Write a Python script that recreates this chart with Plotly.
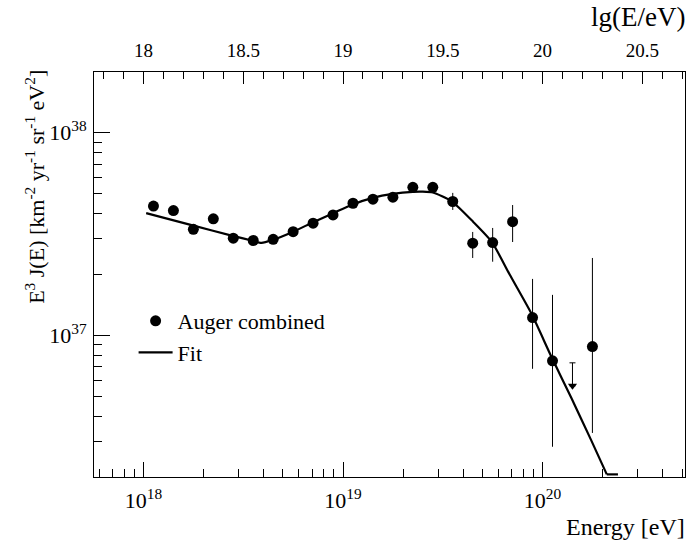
import plotly.graph_objects as go

# ---------------- data ----------------
lgE_data = [18.05, 18.15, 18.25, 18.35, 18.45, 18.55, 18.65, 18.75, 18.85, 18.95,
            19.05, 19.15, 19.25, 19.35, 19.45, 19.55, 19.65, 19.75, 19.85, 19.95,
            20.05, 20.25]
flux = [4.35e37, 4.13e37, 3.34e37, 3.76e37, 3.02e37, 2.94e37, 2.98e37, 3.25e37,
        3.58e37, 3.93e37, 4.49e37, 4.70e37, 4.81e37, 5.38e37, 5.38e37, 4.58e37,
        2.85e37, 2.87e37, 3.64e37, 1.224e37, 7.49e36, 8.81e36]
flux_hi = [4.45e37, 4.23e37, 3.43e37, 3.88e37, 3.09e37, 3.01e37, 3.05e37, 3.33e37,
           3.67e37, 4.04e37, 4.62e37, 4.85e37, 4.98e37, 5.62e37, 5.65e37, 5.05e37,
           3.24e37, 3.39e37, 4.40e37, 1.90e37, 1.585e37, 2.41e37]
flux_lo = [4.25e37, 4.03e37, 3.25e37, 3.64e37, 2.95e37, 2.87e37, 2.91e37, 3.17e37,
           3.49e37, 3.82e37, 4.36e37, 4.55e37, 4.64e37, 5.14e37, 5.11e37, 4.16e37,
           2.41e37, 2.31e37, 2.89e37, 6.84e36, 2.82e36, 3.30e36]

# upper limit bin
lgE_ul = [20.15]
flux_ul = [7.32e36]
ul_arrow_ratio = 0.77   # arrow head sits below the limit

# fit curve
lgE_fit = [18.0135, 18.246, 18.4466, 18.547, 18.592, 18.647, 18.748, 18.848, 18.948,
           19.049, 19.149, 19.249, 19.350, 19.400, 19.450, 19.545, 19.652, 19.745,
           19.836, 19.943, 20.044, 20.144, 20.243, 20.322]
flux_fit = [4.01e37, 3.49e37, 3.10e37, 2.93e37, 2.86e37, 2.96e37, 3.24e37, 3.61e37,
            4.00e37, 4.43e37, 4.77e37, 4.99e37, 5.11e37, 5.12e37, 5.07e37, 4.59e37,
            3.64e37, 2.90e37, 1.99e37, 1.288e37, 7.86e36, 4.92e36, 3.05e36, 2.06e36]
# part of the fit drawn along the lower frame edge (clipped by the plot minimum)
lgE_fit_floor = [20.322, 20.378]
flux_fit_floor = [2.06e36, 2.06e36]

# axis ticks
x_major = [1e18, 1e19, 1e20]
x_major_text = ["10<sup>18</sup>", "10<sup>19</sup>", "10<sup>20</sup>"]
x_minor = [6e17, 7e17, 8e17, 9e17,
           2e18, 3e18, 4e18, 5e18, 6e18, 7e18, 8e18, 9e18,
           2e19, 3e19, 4e19, 5e19, 6e19, 7e19, 8e19, 9e19,
           2e20, 3e20, 4e20, 5e20]
y_major = [1e37, 1e38]
y_major_text = ["10<sup>37</sup>", "10<sup>38</sup>"]
y_minor = [3e36, 4e36, 5e36, 6e36, 7e36, 8e36, 9e36,
           2e37, 3e37, 4e37, 5e37, 6e37, 7e37, 8e37, 9e37]
top_major = [18, 18.5, 19, 19.5, 20, 20.5]
top_major_text = ["18", "18.5", "19", "19.5", "20", "20.5"]
top_minor = [17.8, 17.9, 18.1, 18.2, 18.3, 18.4, 18.6, 18.7, 18.8, 18.9,
             19.1, 19.2, 19.3, 19.4, 19.6, 19.7, 19.8, 19.9,
             20.1, 20.2, 20.3, 20.4, 20.6, 20.7]

lg_range = [17.752, 20.714]
ylog_range = [36.301, 38.300]

FONT = "Liberation Serif, DejaVu Serif, serif"

E_data = [10 ** v for v in lgE_data]
E_fit = [10 ** v for v in lgE_fit]
E_fit_floor = [10 ** v for v in lgE_fit_floor]
E_ul = [10 ** v for v in lgE_ul]
arrow_y = [v * ul_arrow_ratio for v in flux_ul]

fig = go.Figure()

fig.add_trace(go.Scatter(
    x=E_fit, y=flux_fit, mode="lines", name="Fit",
    line=dict(color="black", width=2.2, shape="spline", smoothing=0.6),
    legendrank=2, legendgroup="fit",
))
fig.add_trace(go.Scatter(
    x=E_fit_floor, y=flux_fit_floor, mode="lines", showlegend=False,
    line=dict(color="black", width=2.2), legendgroup="fit", hoverinfo="skip",
))

fig.add_trace(go.Scatter(
    x=E_data, y=flux, mode="markers", name="Auger combined",
    marker=dict(color="black", size=11, symbol="circle"),
    error_y=dict(type="data", symmetric=False,
                 array=[h - f for h, f in zip(flux_hi, flux)],
                 arrayminus=[f - l for f, l in zip(flux, flux_lo)],
                 color="black", thickness=1, width=0),
    legendrank=1,
))

fig.add_trace(go.Scatter(
    x=E_ul, y=arrow_y, mode="markers", showlegend=False,
    marker=dict(color="black", size=8, symbol="triangle-down"),
    error_y=dict(type="data", symmetric=False,
                 array=[u - a for u, a in zip(flux_ul, arrow_y)],
                 arrayminus=[0], color="black", thickness=1, width=3),
))

# invisible trace to carry the top axis
fig.add_trace(go.Scatter(x=[lg_range[0]], y=[1e37], xaxis="x2", mode="markers",
                         marker=dict(opacity=0), showlegend=False, hoverinfo="skip"))

fig.update_layout(
    template="none",
    width=688, height=541,
    margin=dict(l=94, r=3, t=72, b=64, autoexpand=False),
    paper_bgcolor="white", plot_bgcolor="white",
    font=dict(family=FONT, color="black"),
    showlegend=True,
    legend=dict(x=0.067, y=0.437, xanchor="left", yanchor="top",
                bgcolor="rgba(0,0,0,0)", font=dict(family=FONT, size=22),
                itemwidth=34, tracegroupgap=0),
    xaxis=dict(type="log", range=lg_range, showgrid=False, zeroline=False,
               automargin=False,
               showline=True, linecolor="black", linewidth=1, mirror=True,
               tickmode="array", tickvals=x_major, ticktext=x_major_text,
               ticks="inside", ticklen=15, tickcolor="black", tickwidth=1,
               tickfont=dict(family=FONT, size=22), ticklabelstandoff=4,
               minor=dict(tickmode="array", tickvals=x_minor, ticks="inside",
                          ticklen=8, tickcolor="black", tickwidth=1, showgrid=False)),
    xaxis2=dict(overlaying="x", side="top", anchor="y", range=lg_range,
                automargin=False,
                showgrid=False, zeroline=False, showline=True, linecolor="black",
                tickmode="array", tickvals=top_major, ticktext=top_major_text,
                ticks="inside", ticklen=12, tickcolor="black", tickwidth=1,
                tickfont=dict(family=FONT, size=19), ticklabelstandoff=6,
                minor=dict(tickmode="array", tickvals=top_minor, ticks="inside",
                           ticklen=7, tickcolor="black", tickwidth=1, showgrid=False)),
    yaxis=dict(type="log", range=ylog_range, showgrid=False, zeroline=False,
               automargin=False,
               showline=True, linecolor="black", linewidth=1, mirror=True,
               tickmode="array", tickvals=y_major, ticktext=y_major_text,
               ticks="inside", ticklen=16, tickcolor="black", tickwidth=1,
               tickfont=dict(family=FONT, size=22), ticklabelstandoff=2,
               minor=dict(tickmode="array", tickvals=y_minor, ticks="inside",
                          ticklen=8, tickcolor="black", tickwidth=1, showgrid=False)),
    annotations=[
        dict(text="Energy [eV]", xref="paper", yref="paper", x=1.003, y=-0.123,
             xanchor="right", yanchor="middle", showarrow=False,
             font=dict(family=FONT, size=24)),
        dict(text="lg(E/eV)", xref="paper", yref="paper", x=1.003, y=1.136,
             xanchor="right", yanchor="middle", showarrow=False,
             font=dict(family=FONT, size=27)),
        dict(text="E<sup>3</sup> J(E) [km<sup>-2</sup> yr<sup>-1</sup> sr<sup>-1</sup> eV<sup>2</sup>]",
             xref="paper", yref="paper", x=-0.100, y=1.01, xanchor="center",
             yanchor="top", textangle=-90, showarrow=False,
             font=dict(family=FONT, size=22)),
    ],
)

fig.write_html("out.html", config={"displayModeBar": False},
               post_script="document.body.style.margin='0px';document.body.style.padding='0px';")
